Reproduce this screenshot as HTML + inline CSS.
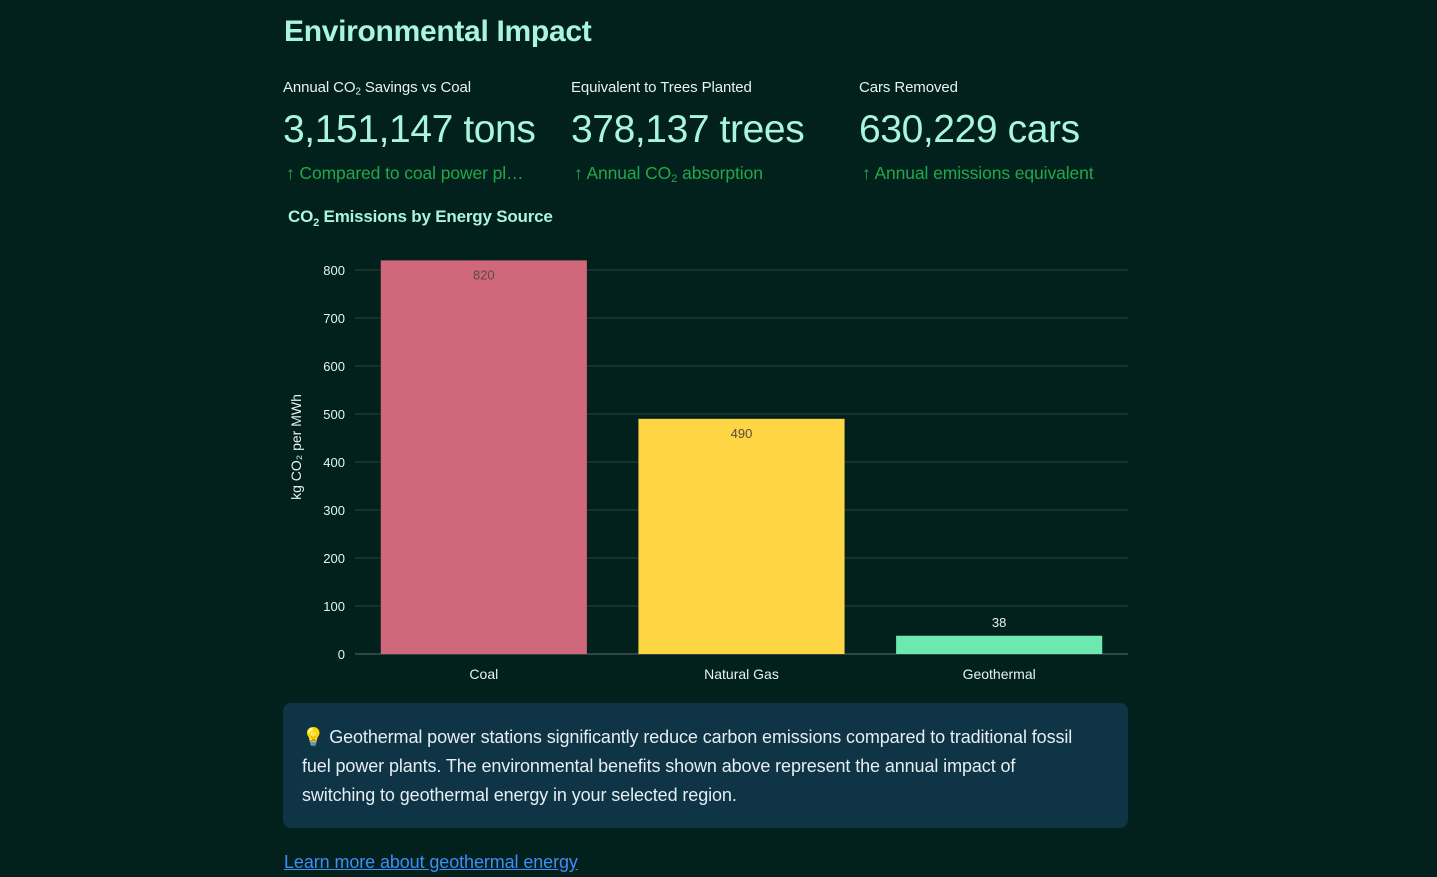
<!DOCTYPE html>
<html><head><meta charset="utf-8"><style>
body{margin:0;width:1437px;height:877px;background:#02201c;font-family:"Liberation Sans",sans-serif;overflow:hidden;position:relative;color:#a7f3e0}
.a{position:absolute}
h1{position:absolute;left:284px;top:15px;margin:0;font-size:30px;font-weight:600;color:#a9f5dd;letter-spacing:-0.3px}
.lbl{font-size:15px;color:#e6f4ef;top:79px;letter-spacing:-0.1px}
.val{font-size:39px;top:108px;color:#a9f5dd;letter-spacing:-0.4px}
.dl{font-size:17.5px;top:163px;color:#22a84a;letter-spacing:-0.1px}
sub{font-size:0.65em;vertical-align:-0.25em;line-height:0}
.box{left:283px;top:703px;width:845px;height:125px;background:#0e3446;border-radius:8px}
.box p{margin:0;position:absolute;left:19px;top:20px;width:785px;font-size:18px;line-height:29px;color:#e6eef2;letter-spacing:-0.1px}
a.lnk{position:absolute;left:284px;top:852px;font-size:18px;color:#3d8ef7;text-decoration:underline;letter-spacing:-0.1px}
</style></head><body>
<h1>Environmental Impact</h1>
<div class="a lbl" style="left:283px">Annual CO<sub>2</sub> Savings vs Coal</div>
<div class="a val" style="left:283px">3,151,147 tons</div>
<div class="a dl" style="left:286px">↑ Compared to coal power pl…</div>
<div class="a lbl" style="left:571px">Equivalent to Trees Planted</div>
<div class="a val" style="left:571px">378,137 trees</div>
<div class="a dl" style="left:574px">↑ Annual CO<sub>2</sub> absorption</div>
<div class="a lbl" style="left:859px">Cars Removed</div>
<div class="a val" style="left:859px">630,229 cars</div>
<div class="a dl" style="left:862px">↑ Annual emissions equivalent</div>
<svg class="a" style="left:0;top:0" width="1437" height="877">
<text x="288" y="222" font-size="17" font-weight="700" fill="#a9f5dd" font-family="Liberation Sans,sans-serif" letter-spacing="-0.2">CO<tspan font-size="11" dy="4">2</tspan><tspan dy="-4"> Emissions by Energy Source</tspan></text>
<g id="grid"></g><g id="bars"></g>
<text transform="translate(301,447) rotate(-90)" text-anchor="middle" font-size="14" fill="#e6f4ef" font-family="Liberation Sans,sans-serif">kg CO₂ per MWh</text>
</svg>
<div class="a box"><p>💡 Geothermal power stations significantly reduce carbon emissions compared to traditional fossil fuel power plants. The environmental benefits shown above represent the annual impact of switching to geothermal energy in your selected region.</p></div>
<a class="lnk" href="#">Learn more about geothermal energy</a>
<script>
const categories=["Coal","Natural Gas","Geothermal"];
const values=[820,490,38];
const colors=["#d0677a","#fed643","#6de8ae"];
const ticks=[0,100,200,300,400,500,600,700,800];
const NS="http://www.w3.org/2000/svg";
const x0=355,x1=1128,y0=654,yTop=270,ymax=800;
const y=v=>y0-(y0-yTop)*v/ymax;
const band=(x1-x0)/categories.length;
function mk(t,a,p){const e=document.createElementNS(NS,t);for(const k in a)e.setAttribute(k,a[k]);p.appendChild(e);return e;}
const g=document.getElementById('grid'),b=document.getElementById('bars');
ticks.forEach(t=>{
 const l=mk('line',{x1:x0,x2:x1,y1:y(t),y2:y(t),stroke:t===0?'#5a6a66':'#2e3f3b','stroke-width':1},g);
 
 
 const tx=mk('text',{x:345,y:y(t)+5,'text-anchor':'end','font-size':13,fill:'#e6f4ef','font-family':'Liberation Sans,sans-serif'},g);
 tx.textContent=t;
 
 
});
categories.forEach((c,i)=>{
 const bx=x0+band*i+band*0.1,bw=band*0.8;
 const r=mk('rect',{x:bx,y:y(values[i]),width:bw,height:y0-y(values[i]),fill:colors[i]},b);
 
 
 const inside=(y0-y(values[i]))>30;
 const vt=mk('text',{x:bx+bw/2,y:inside?y(values[i])+19:y(values[i])-9,'text-anchor':'middle','font-size':13,fill:inside?'#5a4a40':'#e6f4ef','font-family':'Liberation Sans,sans-serif'},b);
 vt.textContent=values[i];
 
 
 const ct=mk('text',{x:bx+bw/2,y:679,'text-anchor':'middle','font-size':14,fill:'#e6f4ef','font-family':'Liberation Sans,sans-serif'},b);
 ct.textContent=c;
 
 
});
</script>
</body></html>
